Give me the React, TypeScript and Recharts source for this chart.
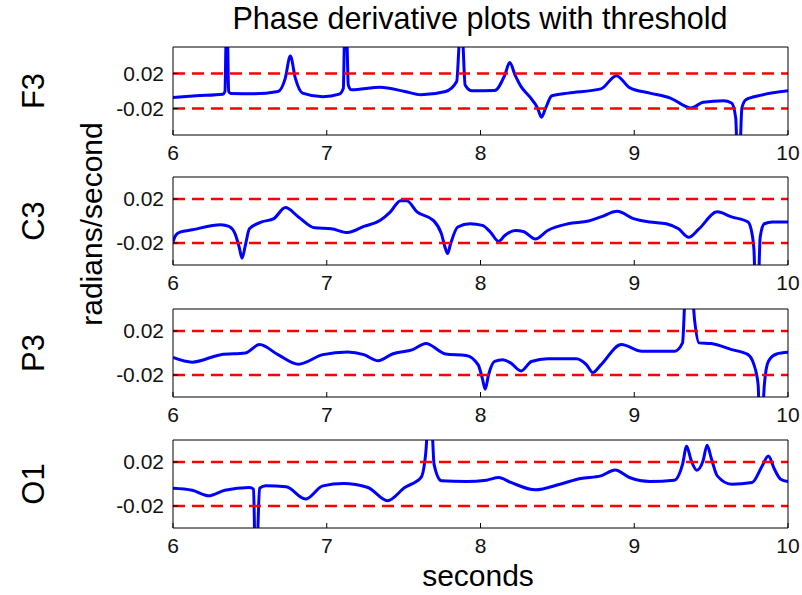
import React from 'react';
import { LineChart, Line, XAxis, YAxis, ReferenceLine } from 'recharts';

const xTicks = [6, 7, 8, 9, 10];
const yTicks = [-0.02, 0.02];
const thresholds = [0.02, -0.02];
const channelNames = ['F3', 'C3', 'P3', 'O1'];
const yLimits = [0.05, 0.04, 0.04, 0.04];
const titleText = 'Phase derivative plots with threshold';
const xLabel = 'seconds';
const yLabel = 'radians/second';

// [seconds, radians/second]
const f3Samples = [
  [6.0, -0.0073], [6.151, -0.0054], [6.324, -0.0036], [6.338, -0.0006], [6.346, 0.06], [6.354, 0.06],
  [6.362, -0.0006], [6.377, -0.0028], [6.524, -0.0032], [6.683, -0.0006], [6.73, 0.0144], [6.763, 0.0398],
  [6.796, 0.0144], [6.843, -0.0024], [6.975, -0.0065], [7.082, -0.0036], [7.108, 0.003], [7.116, 0.06],
  [7.13, 0.06], [7.14, 0.0069], [7.161, 0.0013], [7.348, 0.0043], [7.508, -0.0006], [7.613, -0.0043],
  [7.773, -0.0006], [7.845, 0.0107], [7.866, 0.06], [7.882, 0.06], [7.9, 0.0069], [7.945, 0.0002],
  [8.092, 0.0006], [8.158, 0.0181], [8.19, 0.0323], [8.225, 0.0181], [8.264, 0.005], [8.318, -0.0062],
  [8.371, -0.0193], [8.397, -0.0297], [8.424, -0.0193], [8.464, -0.0054], [8.57, -0.0024], [8.783, 0.0024],
  [8.884, 0.0174], [8.969, 0.0039], [9.102, -0.0024], [9.235, -0.008], [9.368, -0.0193], [9.448, -0.0129],
  [9.58, -0.011], [9.633, -0.0136], [9.66, -0.0305], [9.67, -0.07], [9.686, -0.07], [9.7, -0.0193],
  [9.726, -0.0099], [9.819, -0.005], [10.0, 0.0002],
];

const c3Samples = [
  [6.0, -0.0194], [6.015, -0.0135], [6.045, -0.0102], [6.125, -0.008], [6.311, -0.0034], [6.364, -0.0049],
  [6.404, -0.0117], [6.431, -0.024], [6.449, -0.0338], [6.47, -0.0225], [6.497, -0.0071], [6.577, -0.0009],
  [6.656, 0.0022], [6.731, 0.0123], [6.816, 0.0037], [6.922, -0.0062], [7.029, -0.0071], [7.135, -0.0105],
  [7.241, -0.0049], [7.348, 0.0006], [7.414, 0.0083], [7.48, 0.0185], [7.52, 0.0185], [7.587, 0.0083],
  [7.693, 0.0006], [7.746, -0.0117], [7.773, -0.0255], [7.786, -0.0295], [7.805, -0.0209], [7.852, -0.0055],
  [7.932, -0.0025], [8.012, -0.004], [8.065, -0.0102], [8.118, -0.0185], [8.158, -0.0132], [8.225, -0.0086],
  [8.278, -0.0095], [8.357, -0.0163], [8.437, -0.0086], [8.57, -0.0025], [8.703, 0.0], [8.783, 0.0037],
  [8.889, 0.0089], [8.995, 0.0022], [9.102, -0.0009], [9.208, -0.0025], [9.288, -0.0071], [9.354, -0.0148],
  [9.421, -0.0071], [9.54, 0.0083], [9.633, 0.0037], [9.74, -0.0009], [9.766, -0.0117], [9.779, -0.027],
  [9.787, -0.06], [9.806, -0.06], [9.819, -0.0148], [9.846, -0.0025], [9.899, -0.0009], [10.0, -0.0009],
];

const p3Samples = [
  [6.0, -0.004], [6.125, -0.0083], [6.311, -0.0015], [6.47, 0.0], [6.563, 0.0077], [6.683, -0.0015],
  [6.816, -0.0102], [6.975, -0.0015], [7.135, 0.0009], [7.241, -0.0015], [7.334, -0.0071], [7.427, -0.0009],
  [7.56, 0.0031], [7.645, 0.0086], [7.773, -0.0009], [7.906, -0.0022], [7.985, -0.0108], [8.012, -0.0231],
  [8.031, -0.0329], [8.052, -0.02], [8.092, -0.0077], [8.145, -0.0062], [8.198, -0.0092], [8.264, -0.0163],
  [8.331, -0.0077], [8.437, -0.0052], [8.623, -0.0052], [8.69, -0.0108], [8.73, -0.0178], [8.783, -0.0108],
  [8.916, 0.0077], [9.049, 0.0015], [9.261, 0.0015], [9.314, 0.0092], [9.335, 0.06], [9.373, 0.06],
  [9.393, 0.0292], [9.421, 0.0092], [9.5, 0.0086], [9.633, 0.0031], [9.74, -0.0015], [9.779, -0.0108],
  [9.806, -0.0292], [9.814, -0.06], [9.832, -0.06], [9.846, -0.0292], [9.872, -0.0077], [9.926, -0.0009],
  [10.0, 0.0006],
];

const o1Samples = [
  [6.0, -0.0038], [6.125, -0.0056], [6.231, -0.0107], [6.338, -0.0056], [6.497, -0.0032], [6.524, -0.0047],
  [6.534, -0.06], [6.545, -0.06], [6.563, -0.0038], [6.603, -0.0017], [6.736, -0.0026], [6.861, -0.0137],
  [6.975, -0.0017], [7.108, 0.0005], [7.268, -0.0032], [7.395, -0.0152], [7.507, -0.0032], [7.613, 0.0059],
  [7.645, 0.0299], [7.661, 0.06], [7.68, 0.06], [7.698, 0.0179], [7.746, 0.0029], [7.906, 0.0023],
  [8.039, 0.0035], [8.118, 0.0059], [8.198, 0.0014], [8.357, -0.0053], [8.517, -0.0002], [8.65, 0.005],
  [8.783, 0.0074], [8.876, 0.0128], [8.969, 0.0059], [9.102, 0.0023], [9.261, 0.0035], [9.314, 0.0179],
  [9.341, 0.0344], [9.368, 0.0224], [9.407, 0.0125], [9.447, 0.0209], [9.474, 0.0353], [9.5, 0.0239],
  [9.54, 0.0074], [9.633, -0.0002], [9.766, 0.0014], [9.832, 0.0164], [9.872, 0.0254], [9.912, 0.0134],
  [9.952, 0.0044], [10.0, 0.0023],
];

const channelSamples = [f3Samples, c3Samples, p3Samples, o1Samples];

const FONT = '"Liberation Sans", Arial, Helvetica, sans-serif';
const PANEL_TOPS = [47, 177, 309, 440];
const PLOT_H = 88;
const CHART_H = PLOT_H + 50;
const TICK_FONT = { fontSize: 21, fill: '#111', fontFamily: FONT };

function Panel({ samples, ylim, top }: { samples: number[][]; ylim: number; top: number }) {
  const data = samples.map(([t, v]) => ({ t, v }));
  return (
    <div style={{ position: 'absolute', left: 0, top: top - 10 }}>
      <LineChart
        width={802}
        height={CHART_H}
        data={data}
        margin={{ top: 9, right: 13, bottom: 10, left: 113 }}
      >
        <XAxis
          xAxisId="b"
          dataKey="t"
          type="number"
          domain={[6, 10]}
          ticks={xTicks}
          allowDataOverflow
          orientation="bottom"
          height={30}
          stroke="#000"
          tickSize={-5}
          tickMargin={15}
          tick={TICK_FONT}
          interval={0}
        />
        <XAxis
          xAxisId="top"
          dataKey="t"
          type="number"
          domain={[6, 10]}
          ticks={xTicks}
          allowDataOverflow
          orientation="top"
          height={1}
          stroke="#000"
          tickSize={-5}
          tick={false}
          interval={0}
        />
        <YAxis
          yAxisId="l"
          type="number"
          domain={[-ylim, ylim]}
          ticks={yTicks}
          allowDataOverflow
          width={60}
          stroke="#000"
          tickSize={-5}
          tickMargin={14}
          tick={TICK_FONT}
          interval={0}
          tickFormatter={(v: number) => v.toFixed(2)}
        />
        <YAxis
          yAxisId="r"
          orientation="right"
          type="number"
          domain={[-ylim, ylim]}
          ticks={yTicks}
          allowDataOverflow
          width={1}
          stroke="#000"
          tickSize={-5}
          tick={false}
          interval={0}
        />
        <Line
          xAxisId="b"
          yAxisId="l"
          dataKey="v"
          type="monotone"
          stroke="#0000ff"
          strokeWidth={3}
          dot={false}
          activeDot={false}
          isAnimationActive={false}
        />
        {thresholds.map((th) => (
          <ReferenceLine
            key={th}
            xAxisId="b"
            yAxisId="l"
            y={th}
            stroke="#ff0000"
            strokeWidth={2.5}
            strokeDasharray="12 7"
          />
        ))}
      </LineChart>
    </div>
  );
}

export default function App() {
  return (
    <div style={{ position: 'absolute', left: 0, top: 0, width: 802, height: 595, background: '#fff', fontFamily: FONT }}>
      {channelSamples.map((s, i) => (
        <Panel key={channelNames[i]} samples={s} ylim={yLimits[i]} top={PANEL_TOPS[i]} />
      ))}
      <svg width={802} height={595} style={{ position: 'absolute', left: 0, top: 0, pointerEvents: 'none' }}>
        <text x={480} y={29} textAnchor="middle" fontSize={30.5} fontFamily={FONT} fill="#000">
          {titleText}
        </text>
        <text x={478} y={586} textAnchor="middle" fontSize={30} fontFamily={FONT} fill="#000">
          {xLabel}
        </text>
        <text
          x={0}
          y={0}
          transform="translate(102,224) rotate(-90)"
          textAnchor="middle"
          fontSize={30}
          fontFamily={FONT}
          fill="#000"
        >
          {yLabel}
        </text>
        {channelNames.map((name, i) => (
          <text
            key={name}
            x={0}
            y={0}
            transform={`translate(44,${PANEL_TOPS[i] + PLOT_H / 2}) rotate(-90)`}
            textAnchor="middle"
            fontSize={31}
            fontFamily={FONT}
            fill="#000"
          >
            {name}
          </text>
        ))}
      </svg>
    </div>
  );
}
